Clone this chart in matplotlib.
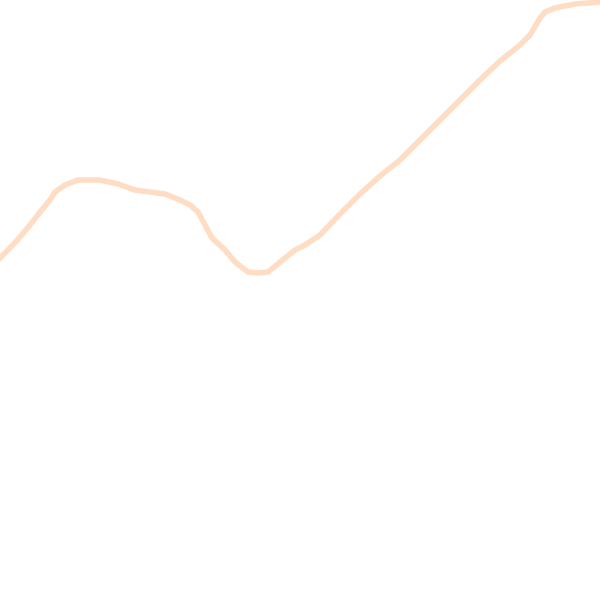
import matplotlib
matplotlib.use("Agg")
import matplotlib.pyplot as plt

# horizontal position (0-600) and value (0 bottom - 600 top)
xs = [0, 10, 20, 30, 40, 50, 55, 65, 78, 100, 118, 135, 150, 165, 180, 190, 198,
      205, 212, 225, 235, 248, 258, 268, 285, 295, 305, 320, 340, 360, 380, 400,
      420, 440, 460, 480, 500, 520, 530, 540, 545, 555, 575, 600]
vals = [342, 352, 363, 375, 388, 400, 408, 415, 420, 420, 416, 410, 408, 406, 400,
        395, 388, 375, 362, 350, 338, 328, 327, 328, 342, 350, 355, 365, 386, 406,
        424, 440, 460, 480, 500, 520, 539, 555, 565, 582, 588, 592, 596, 598]

fig = plt.figure(figsize=(6, 6), dpi=100)
ax = fig.add_axes([0, 0, 1, 1])
ax.plot(xs, vals, color="#FFDDC4", linewidth=4.0, solid_joinstyle="miter")
ax.set_xlim(0, 600)
ax.set_ylim(0, 600)
ax.axis("off")
fig.savefig("out.png", dpi=100, facecolor="white")
